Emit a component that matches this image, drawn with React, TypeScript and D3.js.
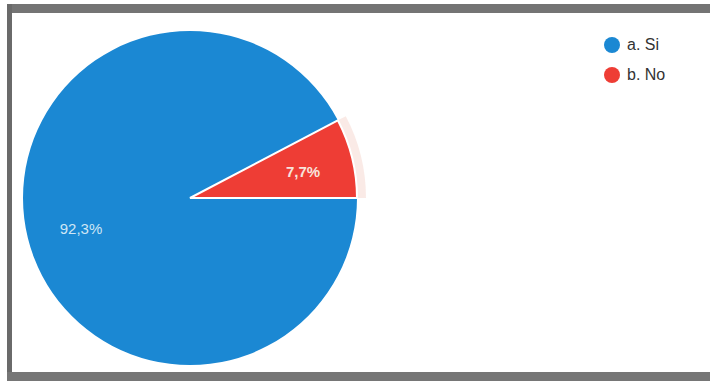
import React from "react";
import * as d3 from "d3";

const categories = ["a. Si", "b. No"];
const values = [92.3, 7.7];
const labels = ["92,3%", "7,7%"];
const colors = ["#1b88d3", "#ee3d35"];

const W = 710;
const H = 381;
const cx = 190;
const cy = 198;
const R = 167;

export default function App() {
  const pie = d3
    .pie<number>()
    .sort(null)
    .startAngle(Math.PI / 2)
    .endAngle(Math.PI / 2 + 2 * Math.PI);
  const arcs = pie(values);
  const arc = d3.arc<d3.PieArcDatum<number>>().innerRadius(0).outerRadius(R);
  const halo = d3
    .arc<d3.PieArcDatum<number>>()
    .innerRadius(R)
    .outerRadius(R + 9);
  const labelPos = [
    [-109, 32],
    [113, -25],
  ];
  return (
    <svg
      width={W}
      height={H}
      style={{ position: "absolute", left: 0, top: 0, background: "#fff" }}
      fontFamily="Arial, 'Liberation Sans', sans-serif"
    >
      <rect x={0} y={0} width={W} height={H} fill="#fff" />
      {/* frame */}
      <rect x={7} y={4} width={W - 7} height={9} fill="#747474" />
      <rect x={7} y={4} width={5} height={H - 4} fill="#6a6a6a" />
      <rect x={7} y={372} width={W - 7} height={9} fill="#767676" />
      <g transform={`translate(${cx},${cy})`}>
        {arcs.map((a, i) =>
          i === 1 ? (
            <path key={"h" + i} d={halo(a) || ""} fill="#f6d9d2" opacity={0.55} />
          ) : null
        )}
        {arcs.map((a, i) => (
          <path
            key={i}
            d={arc(a) || ""}
            fill={colors[i]}
            stroke="#fff"
            strokeWidth={i === 1 ? 2 : 0}
          />
        ))}
        {arcs.map((a, i) => (
          <text
            key={"t" + i}
            x={labelPos[i][0]}
            y={labelPos[i][1]}
            textAnchor="middle"
            dominantBaseline="middle"
            fontSize={15}
            fontWeight={i === 1 ? "bold" : "normal"}
            fill={i === 1 ? "#f7e3dc" : "#cfe6f5"}
          >
            {labels[i]}
          </text>
        ))}
      </g>
      {categories.map((c, i) => (
        <g key={c} transform={`translate(612,${45 + i * 30})`}>
          <circle r={8} fill={colors[i]} />
          <text x={15} y={5} fontSize={16} fill="#333">
            {c}
          </text>
        </g>
      ))}
    </svg>
  );
}
